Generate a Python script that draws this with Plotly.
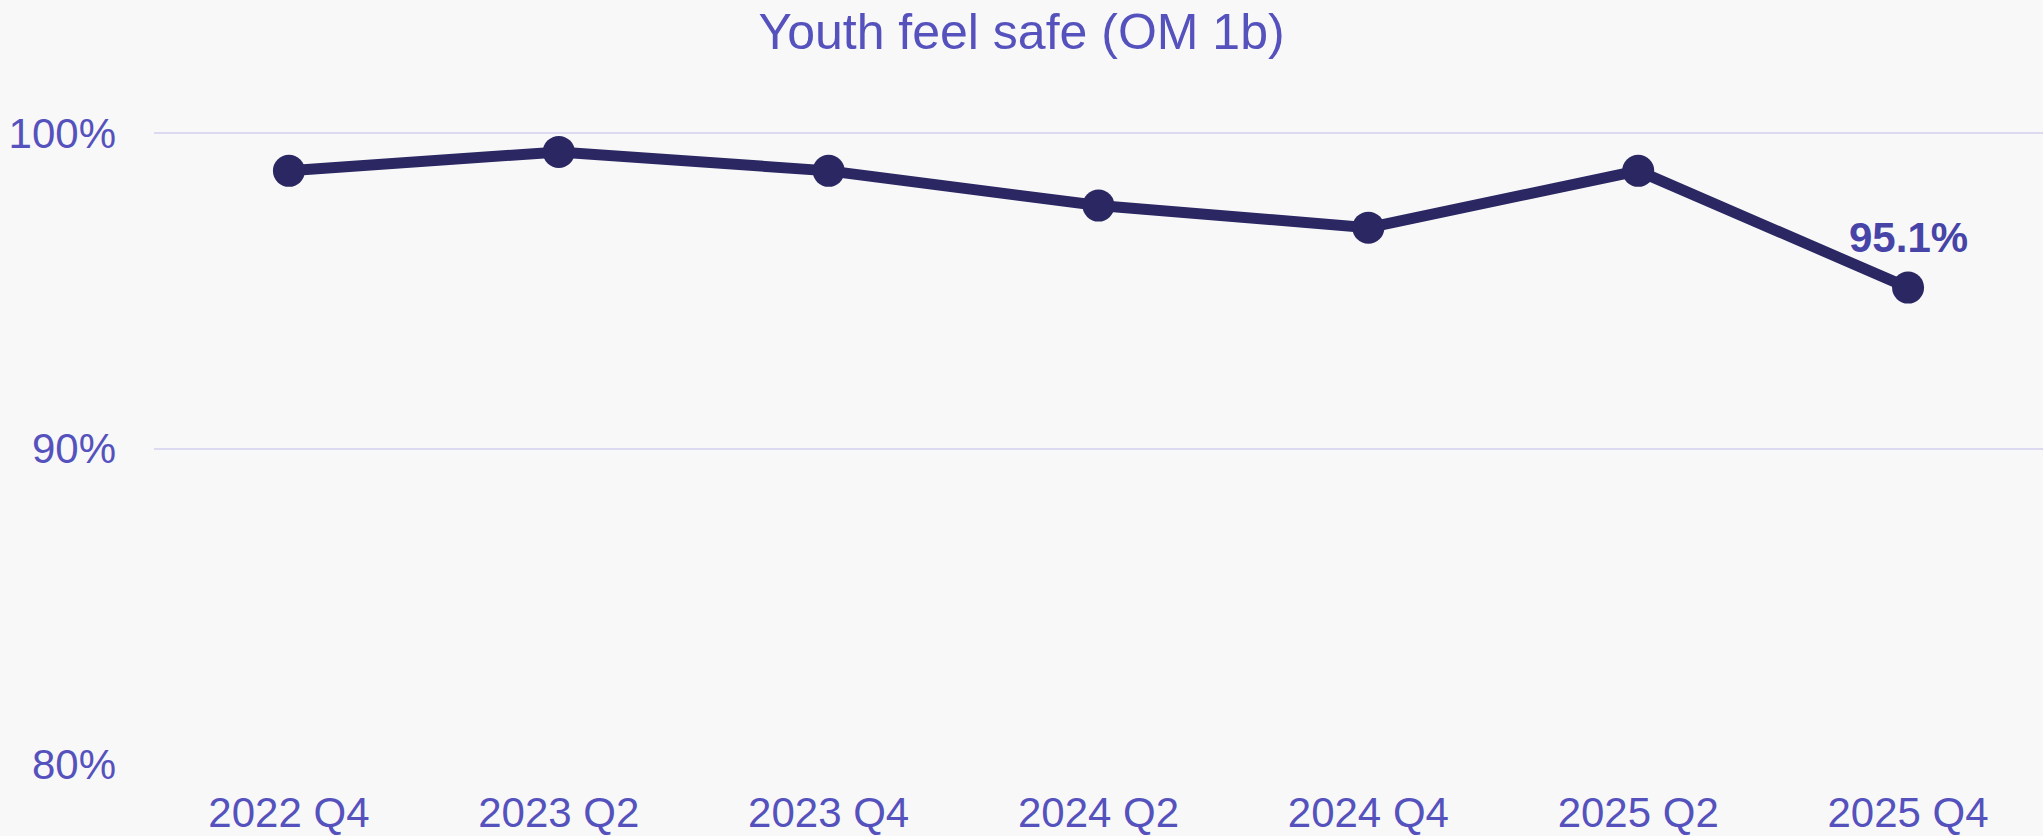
import plotly.graph_objects as go

categories = ["2022 Q4", "2023 Q2", "2023 Q4", "2024 Q2", "2024 Q4", "2025 Q2", "2025 Q4"]
values = [98.8, 99.4, 98.8, 97.7, 97.0, 98.8, 95.1]
last_label = "95.1%"
y_tick_vals = [80, 90, 100]
y_tick_text = ["80%", "90%", "100%"]

FONT = "Liberation Sans, Arial, Helvetica, sans-serif"
TEXT_COLOR = "#5552bd"
LINE_COLOR = "#2a2763"
BG = "#f8f8f8"

fig = go.Figure()
fig.add_trace(go.Scatter(
    x=categories,
    y=values,
    mode="lines+markers",
    line=dict(color=LINE_COLOR, width=11),
    marker=dict(color=LINE_COLOR, size=32),
    cliponaxis=False,
    hoverinfo="skip",
))

fig.add_annotation(
    x=categories[-1],
    y=values[-1],
    text=f"<b>{last_label}</b>",
    showarrow=False,
    xanchor="center",
    yanchor="bottom",
    yshift=25,
    font=dict(family=FONT, size=42, color="#4744a8"),
)

fig.update_layout(
    width=2043,
    height=836,
    paper_bgcolor=BG,
    plot_bgcolor=BG,
    showlegend=False,
    margin=dict(l=154, r=0, t=80, b=69),
    modebar=dict(bgcolor="rgba(0,0,0,0)", color="rgba(0,0,0,0)", activecolor="rgba(0,0,0,0)"),
    title=dict(
        text="Youth feel safe (OM 1b)",
        font=dict(family=FONT, size=50, color=TEXT_COLOR),
        x=0.5,
        xanchor="center",
        xref="container",
        y=1 - 31 / 836,
        yanchor="middle",
        yref="container",
    ),
    xaxis=dict(
        type="category",
        range=[-0.5, 6.5],
        showgrid=False,
        zeroline=False,
        showline=False,
        ticks="",
        tickfont=dict(family=FONT, size=42, color=TEXT_COLOR),
        ticklabelstandoff=20,
    ),
    yaxis=dict(
        range=[80, 101.68],
        tickvals=y_tick_vals,
        ticktext=y_tick_text,
        showgrid=True,
        gridcolor="#dcdaf0",
        gridwidth=2,
        zeroline=False,
        showline=False,
        ticks="",
        tickfont=dict(family=FONT, size=42, color=TEXT_COLOR),
        ticklabelstandoff=37,
    ),
)

fig.write_html(
    "out.html",
    config={"displaylogo": False},
    post_script="document.body.style.margin='0';document.body.style.overflow='hidden';",
)
